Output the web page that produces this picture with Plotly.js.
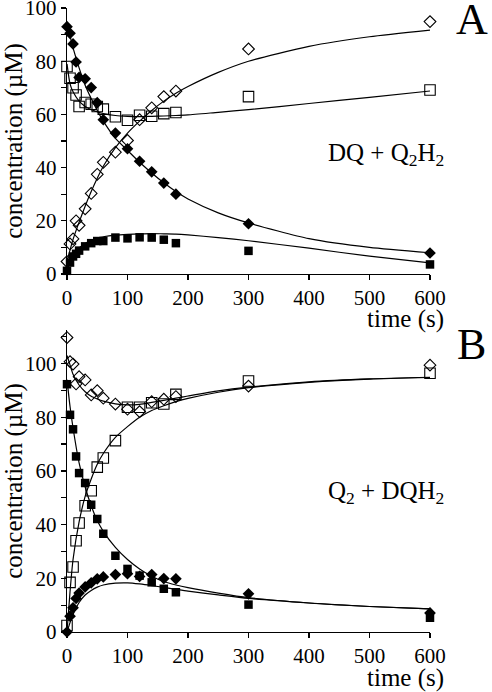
<!DOCTYPE html>
<html>
<head>
<meta charset="utf-8">
<script src="https://cdn.plot.ly/plotly-3.0.1.min.js"></script>
<style>html,body{margin:0;padding:0;background:#fff;}#chart{width:492px;height:692px;}</style>
</head>
<body>
<div id="chart"></div>
<script>
// ---- sampled time points (s) ----
var times = [0, 5, 10, 15, 20, 30, 40, 50, 60, 80, 100, 120, 140, 160, 180, 300, 600];

// ---- Panel A: DQ + Q2H2 (concentration, µM) ----
var aFilledDiamond = [93, 90.5, 86.5, 79.7, 73.9, 73.4, 70.1, 64.4, 58, 53, 47.1, 42.4, 38.4, 34.2, 30, 18.9, 7.9];
var aFilledSquare  = [1.2, 4.3, 6.6, 7.6, 8.8, 10.4, 11.6, 12.4, 12.4, 13.7, 13.4, 13.8, 13.7, 12.9, 11.6, 8.7, 3.6];
var aOpenDiamond   = [4.7, 11.3, 13.2, 20, 18.3, 24.5, 30.3, 37.5, 42, 45.8, 50.2, 58, 62.5, 66.7, 68.8, 84.6, 94.9];
var aOpenSquare    = [78, 73.6, 70, 67.3, 63, 64.5, 63.8, 63, 62, 59.1, 57.8, 59.7, 59.3, 60.3, 60.7, 66.7, 69.2];

// ---- Panel B: Q2 + DQH2 ----
var bFilledDiamond = [0, 5.9, 9, 12.5, 14.5, 16.8, 18.3, 19.8, 20.5, 21.4, 21.7, 20.7, 21.4, 19.9, 19.8, 14.2, 7.1];
var bFilledSquare  = [92.3, 80.9, 75.5, 65.4, 59.2, 55.5, 47.4, 42.1, 36.6, 28.4, 23.5, 21, 18.5, 16.1, 14.8, 10.2, 5.3];
var bOpenDiamond   = [109.7, 100.7, 99.8, 92.4, 95.1, 93.9, 88.3, 89.9, 87.1, 84.9, 83, 82.1, 85.8, 86.7, 87.7, 91.6, 99.4];
var bOpenSquare    = [2.4, 18.5, 24.2, 34, 40.6, 47, 52.6, 61.4, 64.8, 71.3, 83.7, 83.7, 85.4, 84.9, 88.5, 93.5, 96.4];

// ---- fitted curves ----
var fitTimes = [0, 5, 10, 20, 30, 40, 50, 60, 80, 100, 120, 140, 160, 180, 200, 250, 300, 400, 500, 600];
var aFitFilledDiamond = [94, 89.5, 85, 77.5, 71, 66, 61.5, 57.5, 51, 46.5, 42, 38, 34.3, 31, 28.2, 23, 19.2, 13.3, 10, 8];
var aFitFilledSquare  = [1.5, 4.5, 7, 9.8, 11.5, 12.7, 13.5, 14, 14.6, 14.9, 15.1, 15.2, 15.1, 15, 14.7, 13.7, 12.5, 9.7, 6.7, 4.2];
var aFitOpenDiamond   = [5, 9, 13, 19.5, 25.5, 31, 36, 40.5, 47.5, 53, 57.5, 61.5, 65, 68, 70.5, 75.8, 80, 85.6, 89.2, 91.7];
var aFitOpenSquare    = [79, 71.5, 68.5, 65, 63, 61.8, 61, 60.3, 59.6, 59.3, 59.2, 59.3, 59.4, 59.6, 59.8, 60.8, 61.8, 64.1, 66.4, 68.8];
var bFitFilledDiamond = [0, 3.5, 6.5, 11, 13.8, 15.5, 16.7, 17.5, 18.2, 18.3, 17.9, 17.3, 16.6, 15.9, 15.2, 13.8, 12.5, 10.8, 9.5, 8.6];
var bFitFilledSquare  = [94, 84, 76, 63, 54, 47, 41.5, 37.5, 31.5, 27, 23.5, 20.8, 18.8, 17.5, 16.5, 14.5, 12.8, 10.8, 9.5, 8.6];
var bFitOpenDiamond   = [103, 99.5, 96, 92, 89.5, 87.8, 86.8, 86, 85, 84.6, 84.8, 85.5, 86.3, 87.1, 87.9, 89.8, 91.2, 93.2, 94.3, 94.9];
var bFitOpenSquare    = [0, 15, 27, 41, 50.5, 57, 62.5, 66.5, 72.5, 76.5, 80, 82.5, 84.3, 85.8, 87, 89.3, 91, 93, 94.2, 94.8];

// ---- labels ----
var yTitle = 'concentration (µM)';
var xTitle = 'time (s)';
var panelA = 'A', panelB = 'B';
var labelA = 'DQ + Q<sub>2</sub>H<sub>2</sub>';
var labelB = 'Q<sub>2</sub> + DQH<sub>2</sub>';

var FONT = 'Liberation Serif';
var lineStyle = {color: '#000', width: 1.2, shape: 'spline', smoothing: 0.6};

function fit(y, xa, ya) {
  return {x: fitTimes, y: y, xaxis: xa, yaxis: ya, mode: 'lines', line: lineStyle, hoverinfo: 'skip'};
}
function pts(y, sym, size, xa, ya) {
  var open = sym.indexOf('open') >= 0;
  return {x: times, y: y, xaxis: xa, yaxis: ya, mode: 'markers', cliponaxis: false,
    marker: {symbol: sym, size: size, color: '#000', line: {color: '#000', width: open ? 1.1 : 0}}};
}

var data = [
  fit(aFitFilledDiamond, 'x', 'y'), fit(aFitFilledSquare, 'x', 'y'),
  fit(aFitOpenDiamond, 'x', 'y'), fit(aFitOpenSquare, 'x', 'y'),
  fit(bFitFilledDiamond, 'x2', 'y2'), fit(bFitFilledSquare, 'x2', 'y2'),
  fit(bFitOpenDiamond, 'x2', 'y2'), fit(bFitOpenSquare, 'x2', 'y2'),
  pts(aOpenDiamond, 'diamond-open', 9, 'x', 'y'),
  pts(aOpenSquare, 'square-open', 10.5, 'x', 'y'),
  pts(aFilledDiamond, 'diamond', 9, 'x', 'y'),
  pts(aFilledSquare, 'square', 8.5, 'x', 'y'),
  pts(bOpenDiamond, 'diamond-open', 9, 'x2', 'y2'),
  pts(bOpenSquare, 'square-open', 10.5, 'x2', 'y2'),
  pts(bFilledDiamond, 'diamond', 9, 'x2', 'y2'),
  pts(bFilledSquare, 'square', 8.5, 'x2', 'y2')
];

function xax(anchor) {
  return {anchor: anchor, domain: [0, 1], range: [0, 600], dtick: 100, tick0: 0,
    showgrid: false, zeroline: false, showline: true, linecolor: '#000', linewidth: 1.2,
    ticks: 'outside', ticklen: 5, tickwidth: 1.2, tickcolor: '#000',
    tickfont: {family: FONT, size: 21, color: '#000'}, fixedrange: true};
}
function yax(anchor, domain, top) {
  return {anchor: anchor, domain: domain, range: [0, top], dtick: 20, tick0: 0,
    showgrid: false, zeroline: false, showline: true, linecolor: '#000', linewidth: 1.2,
    ticks: 'outside', ticklen: 5, tickwidth: 1.2, tickcolor: '#000',
    minor: {dtick: 10, ticks: 'outside', ticklen: 5, tickwidth: 1.2, tickcolor: '#000', showgrid: false},
    tickfont: {family: FONT, size: 21, color: '#000'},
    ticklabeloverflow: 'allow',
    title: {text: yTitle, font: {family: FONT, size: 25, color: '#000'}, standoff: 6},
    fixedrange: true};
}

var ann = function (text, x, y, size, xanchor) {
  return {text: text, xref: 'paper', yref: 'paper', x: x, y: y, xanchor: xanchor, yanchor: 'middle',
    showarrow: false, font: {family: FONT, size: size, color: '#000'}};
};

var layout = {
  width: 492, height: 692,
  font: {family: FONT, size: 21, color: '#000'},
  margin: {l: 67, r: 62, t: 8, b: 60},
  paper_bgcolor: '#fff', plot_bgcolor: '#fff',
  showlegend: false,
  xaxis: xax('y'),
  yaxis: yax('x', [0.5737, 1], 100.01),
  xaxis2: xax('y2'),
  yaxis2: yax('x2', [0, 0.484], 112.5),
  annotations: [
    ann(panelA, 1.115, 0.982, 44, 'center'),
    ann(panelB, 1.115, 0.46, 44, 'center'),
    ann(labelA, 1.044, 0.766, 25, 'right'),
    ann(labelB, 1.044, 0.223, 25, 'right'),
    ann(xTitle, 1.044, 0.501, 25, 'right'),
    ann(xTitle, 1.044, -0.074, 25, 'right')
  ]
};

Plotly.newPlot('chart', data, layout, {staticPlot: true, displayModeBar: false});
</script>
</body>
</html>
